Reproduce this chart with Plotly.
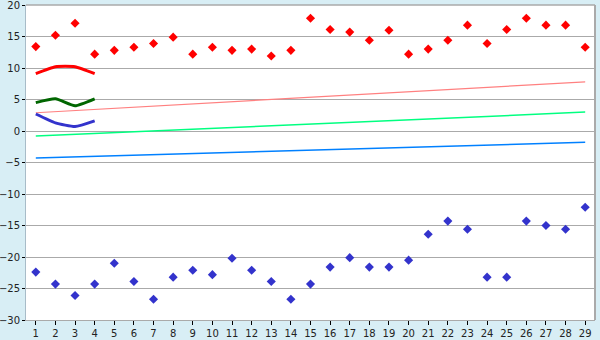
import plotly.graph_objects as go

days = list(range(1, 30))
high = [13.4, 15.2, 17.1, 12.2, 12.8, 13.3, 13.9, 14.9, 12.2, 13.3,
        12.8, 13.0, 11.9, 12.8, 17.9, 16.1, 15.7, 14.4, 16.0, 12.2,
        13.0, 14.4, 16.8, 13.9, 16.1, 17.9, 16.8, 16.8, 13.3]
low = [-22.4, -24.3, -26.1, -24.3, -21.0, -23.9, -26.7, -23.2, -22.1, -22.8,
       -20.2, -22.1, -23.9, -26.7, -24.3, -21.6, -20.1, -21.6, -21.6, -20.5,
       -16.4, -14.3, -15.6, -23.2, -23.2, -14.3, -15.0, -15.6, -12.1]

short_x = [1, 2, 3, 4]
short_red = [9.1, 10.2, 10.2, 9.1]
short_green = [4.5, 5.1, 4.0, 5.1]
short_blue = [2.7, 1.3, 0.7, 1.6]

trend_x = [1, 29]
trend_red = [2.9, 7.8]
trend_green = [-0.8, 3.0]
trend_blue = [-4.3, -1.8]

fig = go.Figure()
fig.add_trace(go.Scatter(x=trend_x, y=trend_red, mode="lines", line=dict(color="#ff8080", width=1.2)))
fig.add_trace(go.Scatter(x=trend_x, y=trend_green, mode="lines", line=dict(color="#00ff80", width=1.5)))
fig.add_trace(go.Scatter(x=trend_x, y=trend_blue, mode="lines", line=dict(color="#0080ff", width=1.5)))
fig.add_trace(go.Scatter(x=short_x, y=short_red, mode="lines",
                         line=dict(color="#ff0000", width=3, shape="spline", smoothing=0.5)))
fig.add_trace(go.Scatter(x=short_x, y=short_green, mode="lines",
                         line=dict(color="#006600", width=3, shape="spline", smoothing=0.5)))
fig.add_trace(go.Scatter(x=short_x, y=short_blue, mode="lines",
                         line=dict(color="#3333cc", width=3, shape="spline", smoothing=0.5)))
fig.add_trace(go.Scatter(x=days, y=high, mode="markers",
                         marker=dict(symbol="diamond", size=7, color="#ff0000")))
fig.add_trace(go.Scatter(x=days, y=low, mode="markers",
                         marker=dict(symbol="diamond", size=7, color="#3333cc")))

fig.add_shape(type="line", xref="paper", yref="paper", x0=1, x1=1, y0=0, y1=1,
              line=dict(color="#aaaaaa", width=2))
fig.add_shape(type="line", xref="paper", yref="paper", x0=0, x1=1, y0=1, y1=1,
              line=dict(color="#aaaaaa", width=1.5))

fig.update_layout(
    width=600, height=340,
    margin=dict(l=26, r=5, t=5, b=20, autoexpand=False),
    paper_bgcolor="#d8eef5",
    plot_bgcolor="#ffffff",
    showlegend=False,
    font=dict(family="DejaVu Sans", size=10, color="#222222"),
    xaxis=dict(range=[0.5, 29.5], tickvals=days, showgrid=False, zeroline=False,
               showline=True, linecolor="#aaaaaa", linewidth=1, automargin=False,
               ticks="outside", ticklen=4, tickcolor="#000000", tickfont=dict(size=10),
               ticklabeloverflow="allow"),
    yaxis=dict(range=[-30, 20], tickvals=list(range(-30, 25, 5)), showgrid=True,
               gridcolor="#aaaaaa", gridwidth=1, automargin=False,
               zeroline=False, showline=True, linecolor="#a8bcc8", linewidth=1,
               ticks="outside", ticklen=3, tickcolor="#000000", tickfont=dict(size=10),
               ticklabeloverflow="allow"),
)

fig.write_html("out.html")
